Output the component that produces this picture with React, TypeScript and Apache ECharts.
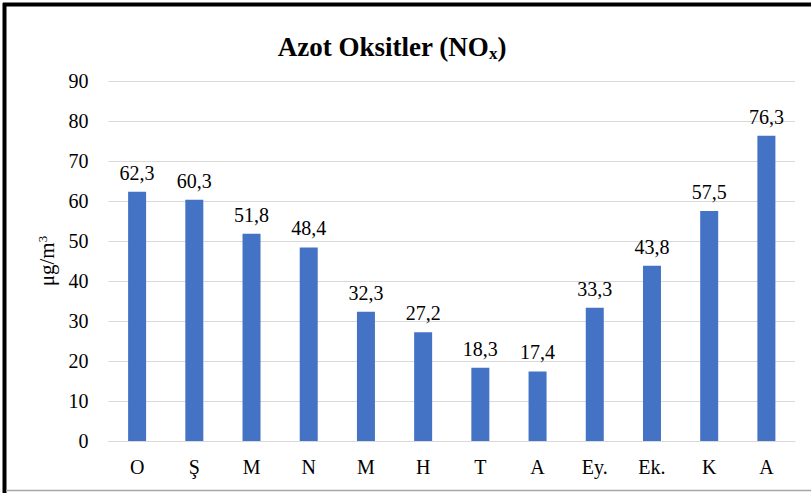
import React, { useEffect, useRef } from "react";
import * as echarts from "echarts";

const categories = ["O", "Ş", "M", "N", "M", "H", "T", "A", "Ey.", "Ek.", "K", "A"];
const values = [62.3, 60.3, 51.8, 48.4, 32.3, 27.2, 18.3, 17.4, 33.3, 43.8, 57.5, 76.3];
const yTicks = { min: 0, max: 90, interval: 10 };

const FONT = "Times New Roman";

export default function App() {
  const ref = useRef<HTMLDivElement>(null);
  useEffect(() => {
    if (!ref.current) return;
    const chart = echarts.init(ref.current, null, { renderer: "svg" });
    chart.setOption({
      animation: false,
      backgroundColor: "#ffffff",
      textStyle: { fontFamily: FONT },
      title: {
        text: "{t|Azot Oksitler (NO}{s|x}{t|)}",
        left: 387,
        textAlign: "center",
        top: 26,
        textStyle: {
          fontFamily: FONT,
          rich: {
            t: { fontFamily: FONT, fontWeight: "bold", fontSize: 27, color: "#000000" },
            s: { fontFamily: FONT, fontWeight: "bold", fontSize: 17, color: "#000000", verticalAlign: "bottom", padding: [14, 0, 0, 0] },
          },
        },
      },
      grid: { left: 108.5, right: 16, top: 81, bottom: 52, containLabel: false },
      xAxis: {
        type: "category",
        data: categories,
        axisLine: { show: true, lineStyle: { color: "#d9d9d9", width: 1 } },
        axisTick: { show: false },
        axisLabel: { fontFamily: FONT, fontSize: 20, color: "#000000", margin: 16 },
      },
      yAxis: {
        type: "value",
        min: yTicks.min,
        max: yTicks.max,
        interval: yTicks.interval,
        name: "{n|μg/m}{p|3}",
        nameLocation: "middle",
        nameRotate: 90,
        nameGap: 44,
        nameTextStyle: {
          fontFamily: FONT,
          rich: {
            n: { fontFamily: FONT, fontSize: 21, color: "#000000" },
            p: { fontFamily: FONT, fontSize: 13, color: "#000000", verticalAlign: "top", padding: [0, 0, 10, 0] },
          },
        },
        axisLine: { show: false },
        axisTick: { show: false },
        axisLabel: { fontFamily: FONT, fontSize: 20, color: "#000000", margin: 20 },
        splitLine: { lineStyle: { color: "#d9d9d9", width: 1 } },
      },
      series: [
        {
          type: "bar",
          data: values,
          barWidth: 18,
          itemStyle: { color: "#4472C4" },
          label: {
            show: true,
            position: "top",
            distance: 9,
            fontFamily: FONT,
            fontSize: 20,
            color: "#000000",
            formatter: (p: any) => String(p.value).replace(".", ","),
          },
        },
      ],
      graphic: [
        { type: "line", shape: { x1: 3, y1: 4.5, x2: 811, y2: 4.5 }, style: { stroke: "#000000", lineWidth: 4 }, silent: true },
        { type: "line", shape: { x1: 4.5, y1: 3, x2: 4.5, y2: 493 }, style: { stroke: "#000000", lineWidth: 4 }, silent: true },
        { type: "line", shape: { x1: 6, y1: 490.5, x2: 811, y2: 490.5 }, style: { stroke: "#a6a6a6", lineWidth: 1.5 }, silent: true },
      ],
    });
    return () => chart.dispose();
  }, []);
  return (
    <div
      ref={ref}
      style={{ position: "fixed", left: 0, top: 0, width: 811, height: 493 }}
    />
  );
}
